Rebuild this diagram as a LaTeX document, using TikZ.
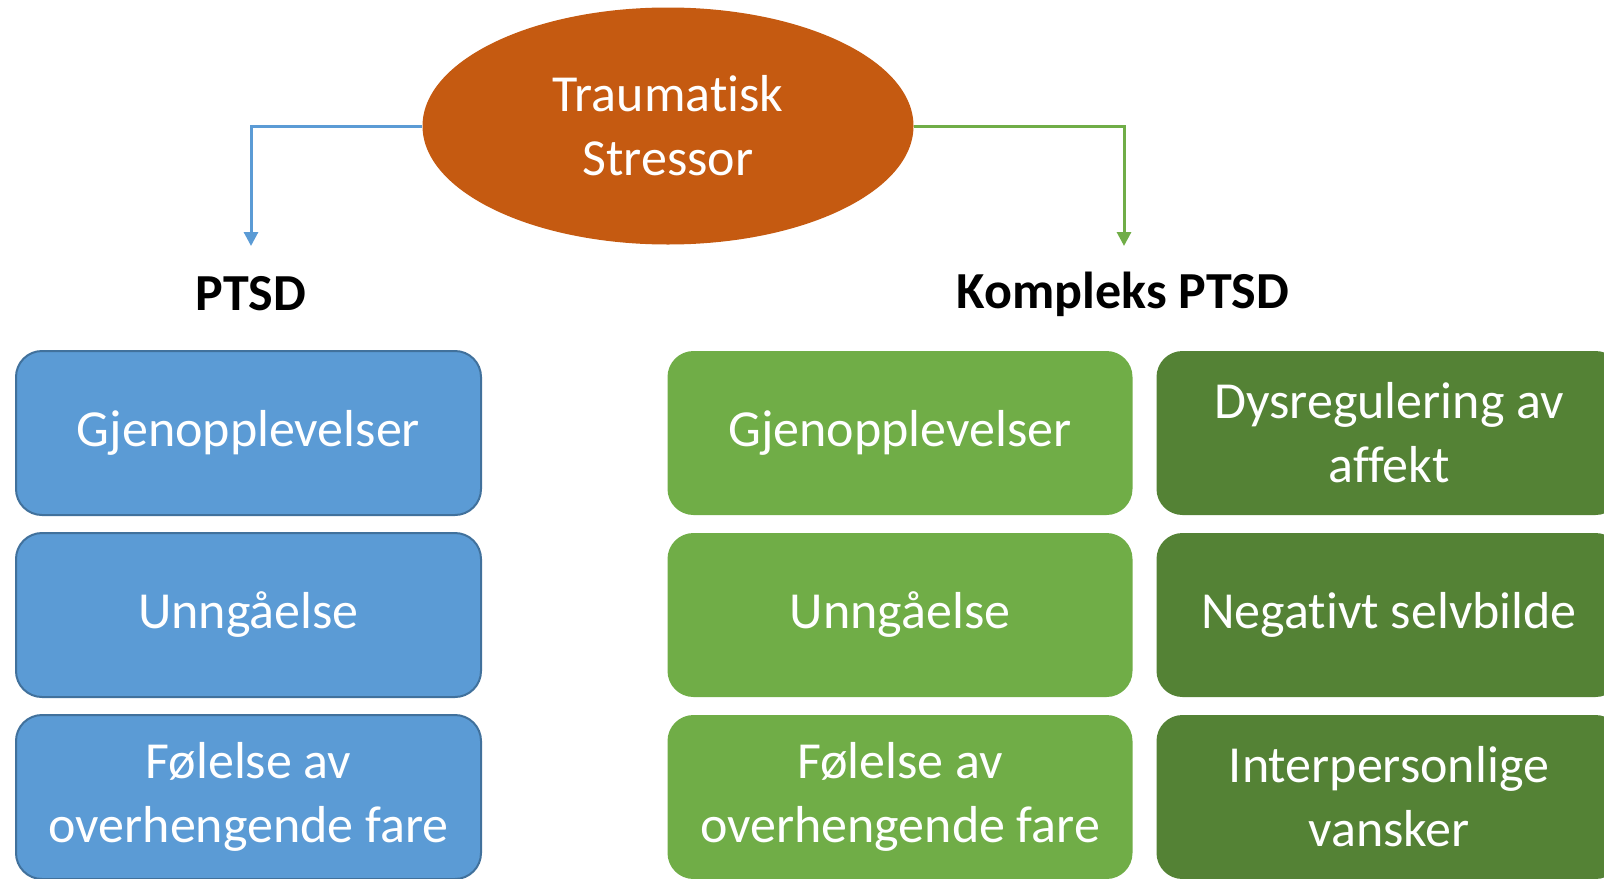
\documentclass[tikz,border=0pt]{standalone}
\usepackage{fontspec}
\setmainfont{Carlito}[Ligatures={NoCommon}]
\usetikzlibrary{shapes,positioning,arrows.meta}
\definecolor{ptsdblue}{HTML}{5B9BD5}
\definecolor{ptsdborder}{HTML}{41719C}
\definecolor{lightgreen}{HTML}{70AD47}
\definecolor{darkgreen}{HTML}{548235}
\definecolor{stressorange}{HTML}{C55A11}

\begin{document}
\begin{tikzpicture}[x=0.5pt, y=-0.5pt, font=\fontsize{26}{32}\selectfont,
    symptom/.style={rectangle, rounded corners=13pt, minimum width=232.5pt, minimum height=82pt, align=center, text=white, inner sep=0pt},
    branch/.style={line width=1.5pt, -{Triangle[length=7pt,width=7pt]}}]
	\useasboundingbox (0,0) rectangle (1604,878);
	\clip (0,0) rectangle (1604,878);
	\node[ellipse, fill=stressorange, minimum width=245.5pt, minimum height=118.5pt, text=white, align=center] (stressor) at (668,126) {Traumatisk\\Stressor};
	\node[font=\fontsize{26}{32}\selectfont\bfseries] (ptsd) at (251,294) {PTSD};
	\node[font=\fontsize{26}{32}\selectfont\bfseries] (kptsd) at (1123,294) {Kompleks PTSD};
	\coordinate (ptsdtip) at (251,246);
	\coordinate (kptsdtip) at (1124,246);
	\draw[branch, ptsdblue] (stressor.west) -| (ptsdtip);
	\draw[branch, lightgreen] (stressor.east) -| (kptsdtip);
	\foreach \y/\i/\name in {433/1/Gjenopplevelser,615/2/Unngåelse,797/3/{Følelse av\\overhengende fare}}{
		\node[symptom, fill=ptsdblue, draw=ptsdborder, line width=1pt] (p\i) at (248.5,\y) {\name};
		\node[symptom, fill=lightgreen] (k\i) at (900,\y) {\name};}
	\foreach \y/\i/\name in {433/1/{Dysregulering av\\affekt},615/2/Negativt selvbilde,797/3/{Interpersonlige\\vansker}}
		\node[symptom, fill=darkgreen] (d\i) at (1389,\y) {\name};
\end{tikzpicture}
\end{document}
